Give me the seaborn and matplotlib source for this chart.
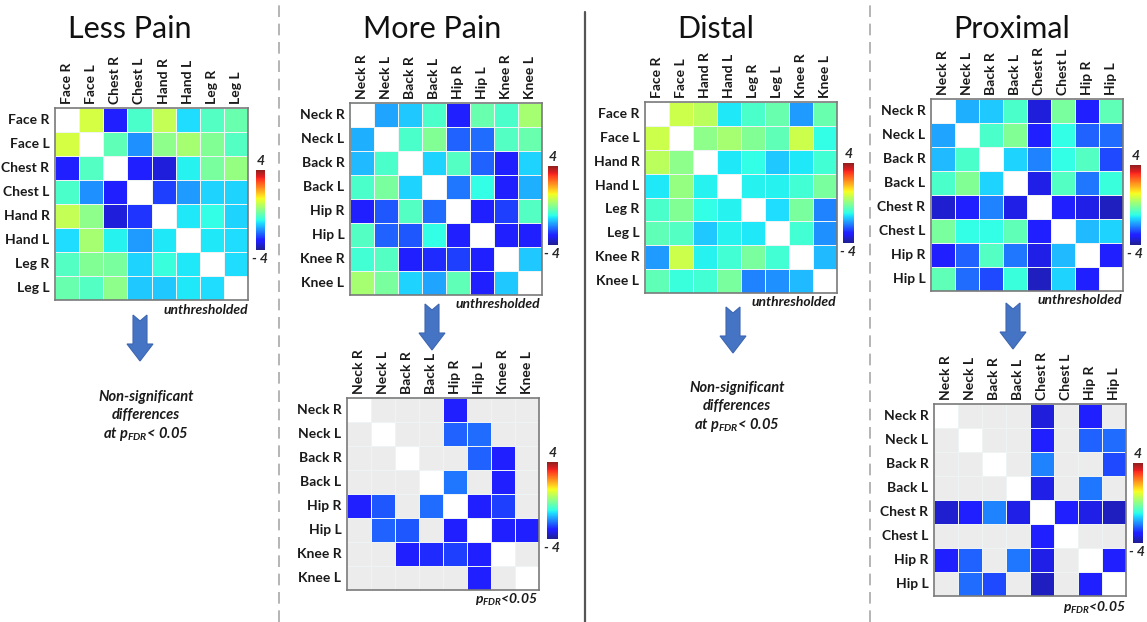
import numpy as np
import pandas as pd
import matplotlib
matplotlib.use("Agg")
import matplotlib.pyplot as plt
import seaborn as sns
from matplotlib.colors import ListedColormap
from matplotlib.patches import Polygon
from matplotlib.lines import Line2D

sns.set_theme(style="white")
plt.rcParams["font.family"] = ["Lato", "DejaVu Sans"]
plt.rcParams["mathtext.fontset"] = "custom"
plt.rcParams["mathtext.rm"] = "Lato"
plt.rcParams["mathtext.it"] = "Lato:italic"
plt.rcParams["mathtext.bf"] = "Lato:bold"
plt.rcParams["mathtext.bfit"] = "Lato:italic:bold"

nan = np.nan

# ---------------- data ----------------
less_regions = ["Face R", "Face L", "Chest R", "Chest L", "Hand R", "Hand L", "Leg R", "Leg L"]
less_pain_t = [
    [nan, 0.8, -3.0, -0.7, 0.6, -1.3, -0.6, -0.4],
    [0.8, nan, -0.5, -2.0, 0.0, 0.3, -0.1, -0.6],
    [-3.0, -0.6, nan, -3.1, -3.4, -1.1, -0.2, 0.1],
    [-0.7, -2.0, -3.1, nan, -2.7, -1.9, -1.4, -1.4],
    [0.6, 0.0, -3.4, -2.8, nan, -1.2, -1.0, -1.4],
    [-1.3, 0.3, -1.1, -1.9, -1.2, nan, -1.2, -1.3],
    [-0.6, -0.1, -0.2, -1.4, -0.9, -1.2, nan, -1.3],
    [-0.4, -0.6, 0.0, -1.5, -1.5, -1.2, -1.3, nan],
]

more_regions = ["Neck R", "Neck L", "Back R", "Back L", "Hip R", "Hip L", "Knee R", "Knee L"]
more_pain_t = [
    [nan, -1.8, -1.5, -0.7, -3.0, -0.4, -0.7, 0.3],
    [-1.7, nan, -0.7, -0.1, -2.4, -2.3, -0.6, -0.4],
    [-1.6, -0.7, nan, -1.4, -0.6, -2.4, -3.0, -1.4],
    [-0.7, -0.2, -1.4, nan, -2.2, -1.0, -3.0, -1.7],
    [-3.0, -2.5, -0.6, -2.3, nan, -3.1, -2.7, -0.6],
    [-0.6, -2.4, -2.5, -1.0, -3.1, nan, -3.1, -3.0],
    [-0.8, -0.6, -3.0, -2.9, -2.7, -3.1, nan, -1.5],
    [0.3, -0.2, -1.4, -1.8, -0.5, -3.1, -1.5, nan],
]
more_pain_sig = [
    [0, 0, 0, 0, 1, 0, 0, 0],
    [0, 0, 0, 0, 1, 1, 0, 0],
    [0, 0, 0, 0, 0, 1, 1, 0],
    [0, 0, 0, 0, 1, 0, 1, 0],
    [1, 1, 0, 1, 0, 1, 1, 0],
    [0, 1, 1, 0, 1, 0, 1, 1],
    [0, 0, 1, 1, 1, 1, 0, 0],
    [0, 0, 0, 0, 0, 1, 0, 0],
]

distal_regions = ["Face R", "Face L", "Hand R", "Hand L", "Leg R", "Leg L", "Knee R", "Knee L"]
distal_t = [
    [nan, 0.7, 0.5, -1.2, -0.7, -0.4, -1.9, -0.4],
    [0.7, nan, 0.0, 0.3, -0.1, -0.5, 0.7, -1.0],
    [0.5, 0.0, nan, -1.2, -1.0, -1.5, -1.2, -0.8],
    [-1.2, 0.1, -1.1, nan, -1.1, -1.1, -0.8, -0.2],
    [-0.7, -0.1, -1.0, -1.1, nan, -1.3, -0.2, -2.1],
    [-0.5, -0.6, -1.5, -1.1, -1.2, nan, -0.8, -2.0],
    [-1.9, 0.7, -1.1, -0.8, -0.2, -0.8, nan, -1.6],
    [-0.5, -0.9, -0.8, -0.2, -2.1, -2.0, -1.6, nan],
]

proximal_regions = ["Neck R", "Neck L", "Back R", "Back L", "Chest R", "Chest L", "Hip R", "Hip L"]
proximal_t = [
    [nan, -1.7, -1.5, -0.7, -3.4, -0.2, -3.0, -0.5],
    [-1.8, nan, -0.7, -0.1, -3.1, -1.0, -2.4, -2.3],
    [-1.6, -0.7, nan, -1.4, -2.1, -1.0, -0.6, -2.6],
    [-0.7, -0.1, -1.4, nan, -3.3, -0.6, -2.2, -0.9],
    [-3.5, -3.1, -2.1, -3.3, nan, -3.0, -3.3, -3.6],
    [-0.2, -1.0, -1.0, -0.5, -3.0, nan, -1.6, -1.4],
    [-3.0, -2.4, -0.6, -2.2, -3.3, -1.6, nan, -3.1],
    [-0.5, -2.3, -2.6, -0.9, -3.6, -1.4, -3.1, nan],
]
proximal_sig = [
    [0, 0, 0, 0, 1, 0, 1, 0],
    [0, 0, 0, 0, 1, 0, 1, 1],
    [0, 0, 0, 0, 1, 0, 0, 1],
    [0, 0, 0, 0, 1, 0, 1, 0],
    [1, 1, 1, 1, 0, 1, 1, 1],
    [0, 0, 0, 0, 1, 0, 0, 0],
    [1, 1, 0, 1, 1, 0, 0, 1],
    [0, 1, 1, 0, 1, 0, 1, 0],
]

titles = ["Less Pain", "More Pain", "Distal", "Proximal"]

# ---------------- layout helpers ----------------
W, H = 1147, 622
fig = plt.figure(figsize=(W / 100, H / 100), dpi=100)
fig.patch.set_facecolor("white")

# jet, softened slightly towards white
_jet = matplotlib.colormaps["jet"](np.linspace(0, 1, 256))
_jet[:, :3] = _jet[:, :3] * 0.88 + 0.12
SOFT_JET = ListedColormap(_jet)


def frac(l, t, r, b):
    return [l / W, 1 - b / H, (r - l) / W, (b - t) / H]


GREY_CELL = "#ececec"
LABEL_KW = dict(fontsize=10, fontweight="bold", color="#1a1a1a")


def draw_matrix(rect, cbar_rect, labels, values, sig=None):
    n = len(labels)
    ax = fig.add_axes(frac(*rect))
    cax = fig.add_axes(frac(*cbar_rect))
    vals = pd.DataFrame(values, index=labels, columns=labels)
    diag = np.eye(n, dtype=bool)
    if sig is not None:
        sig = np.array(sig, dtype=bool)
        base = pd.DataFrame(np.zeros((n, n)), index=labels, columns=labels)
        sns.heatmap(base, mask=diag | sig, cmap=ListedColormap([GREY_CELL]),
                    cbar=False, linewidths=0.6, linecolor="#f8f8f8", ax=ax)
        hide = diag | ~sig
    else:
        hide = diag
    sns.heatmap(vals, mask=hide, cmap=SOFT_JET, vmin=-4, vmax=4,
                linewidths=0.6, linecolor="#eef3f3", ax=ax,
                cbar=True, cbar_ax=cax, cbar_kws={"ticks": []})
    ax.set_facecolor("white")
    ax.xaxis.tick_top()
    ax.tick_params(axis="x", top=True, bottom=False, labeltop=True, labelbottom=False,
                   length=0, pad=3)
    ax.tick_params(axis="y", length=0, pad=4)
    ax.set_xticklabels(labels, rotation=90, **LABEL_KW)
    ax.set_yticklabels(labels, rotation=0, **LABEL_KW)
    ax.set_xlabel("")
    ax.set_ylabel("")
    for sp in ax.spines.values():
        sp.set_visible(True)
        sp.set_color("#7a7a7a")
        sp.set_linewidth(1.2)
    cbar = ax.collections[-1].colorbar
    if cbar is not None:
        cbar.outline.set_visible(False)
    cx = (cbar_rect[0] + cbar_rect[2]) / 2
    fig.text(cx / W, 1 - (cbar_rect[1] - 3) / H, "4", ha="center", va="bottom",
             fontsize=10, fontweight="bold", fontstyle="italic")
    fig.text((cx - 1) / W, 1 - (cbar_rect[3] + 3) / H, "- 4", ha="center", va="top",
             fontsize=10, fontweight="bold", fontstyle="italic")
    return ax


def corner_note(x_right, y, text):
    fig.text(x_right / W, 1 - y / H, text, ha="right", va="center",
             fontsize=10, fontweight="bold", fontstyle="italic", color="#1a1a1a")


def down_arrow(cx, top):
    pts = [(-7, 0), (0, 6), (7, 0), (7, 29), (13, 29), (0, 46), (-13, 29), (-7, 29)]
    xy = [((cx + dx) / W, 1 - (top + dy) / H) for dx, dy in pts]
    fig.add_artist(Polygon(xy, closed=True, transform=fig.transFigure,
                           facecolor="#4674c4", edgecolor="#3d66b0", linewidth=0.8))


def non_sig_note(cx, top):
    kw = dict(ha="center", va="center", fontsize=10.5, fontweight="bold",
              fontstyle="italic", color="#1a1a1a")
    fig.text(cx / W, 1 - top / H, "Non-significant", **kw)
    fig.text(cx / W, 1 - (top + 18) / H, "differences", **kw)
    fig.text(cx / W, 1 - (top + 37) / H, r"at $\mathbfit{p}_{\mathbfit{FDR}}$< 0.05", **kw)


# ---------------- panels ----------------
draw_matrix((55, 108, 248, 300), (256, 170, 265, 250), less_regions, less_pain_t)
corner_note(248, 310, "unthresholded")
down_arrow(140, 315)
non_sig_note(146, 397)

draw_matrix((350, 103, 542, 295), (548, 166, 558, 245), more_regions, more_pain_t)
corner_note(540, 304, "unthresholded")
down_arrow(432, 304)
draw_matrix((347, 398, 539, 590), (547, 462, 558, 539), more_regions, more_pain_t, more_pain_sig)
corner_note(538, 600, r"$\mathbfit{p}_{\mathbfit{FDR}}$<0.05")

draw_matrix((645, 102, 837, 293), (843, 163, 854, 243), distal_regions, distal_t)
corner_note(836, 302, "unthresholded")
down_arrow(733, 307)
non_sig_note(737, 388)

draw_matrix((931, 99, 1123, 291), (1130, 165, 1141, 245), proximal_regions, proximal_t)
corner_note(1122, 300, "unthresholded")
down_arrow(1013, 303)
draw_matrix((934, 404, 1126, 596), (1133, 463, 1143, 543), proximal_regions, proximal_t, proximal_sig)
corner_note(1126, 608, r"$\mathbfit{p}_{\mathbfit{FDR}}$<0.05")

# titles
for x, name in zip([130, 432, 716, 1012], titles):
    fig.text(x / W, 1 - 29 / H, name, ha="center", va="center", fontsize=22, color="#111111")

# separators between groups
for x, style, color, lw, y0 in [(279, (0, (7, 4)), "#a8a8a8", 1.2, 0),
                                 (585, "-", "#555555", 1.6, 12),
                                 (870, (0, (7, 4)), "#a8a8a8", 1.2, 0)]:
    fig.add_artist(Line2D([x / W, x / W], [0, 1 - y0 / H], transform=fig.transFigure,
                          linestyle=style, color=color, linewidth=lw))

fig.savefig("out.png", dpi=100, facecolor="white")
